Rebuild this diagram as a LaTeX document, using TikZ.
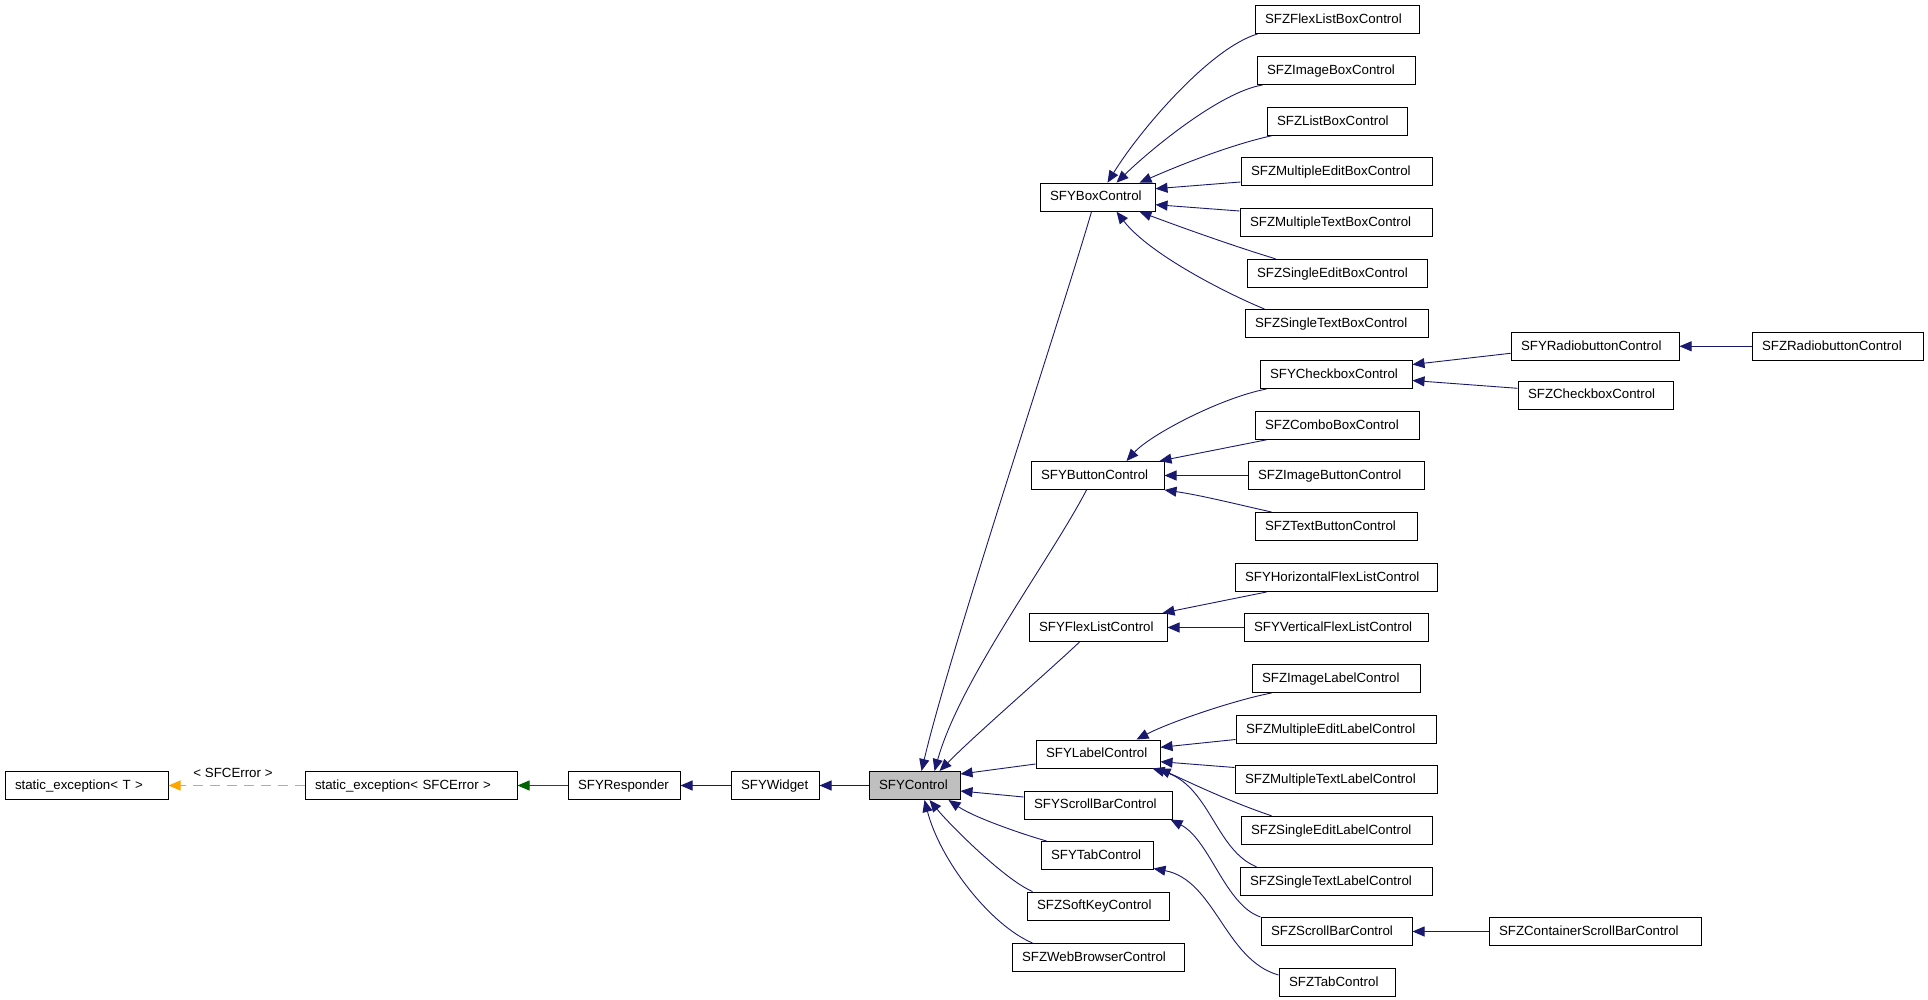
\documentclass[tikz,border=0pt]{standalone}
\usepackage{fontspec}
\setmainfont{Liberation Sans}
\usetikzlibrary{arrows.meta,calc}
\definecolor{edgeblue}{RGB}{25,25,112}
\definecolor{edgegreen}{RGB}{0,100,0}
\definecolor{edgeorange}{RGB}{255,165,0}
\definecolor{ctrlgray}{RGB}{191,191,191}
\newcommand\clsnode[6][]{%
  \pgfmathsetmacro\clsCX{(#3+#4)/2}%
  \pgfmathsetmacro\clsBW{#4-#3}%
  \pgfmathsetmacro\clsTW{#4-#3-20}%
  \node[clsbox,minimum width=\clsBW pt,text width=\clsTW pt,#1] (#2) at (\clsCX,#5) {#6};%
}
\begin{document}
\begin{tikzpicture}[x=1pt,y=-1pt,
  clsbox/.style={draw=black, line width=1pt, fill=white, inner xsep=10pt, inner ysep=0pt,
    minimum height=28pt, align=left, text height=11.6pt, text depth=4pt,
    font=\fontsize{13.3}{16}\selectfont},
  inh/.style={draw=edgeblue, line width=0.9pt, -{Triangle[length=12pt,width=10pt]}},
  inhgreen/.style={draw=edgegreen, line width=0.9pt, -{Triangle[length=12pt,width=10pt]}},
  inhorange/.style={draw=edgeorange, line width=0.9pt, dash pattern=on 10pt off 7pt, -{Triangle[length=12pt,width=10pt]}},
  lbltext/.style={inner sep=0pt, text height=11.6pt, text depth=4pt, font=\fontsize{13.3}{16}\selectfont}
]
\fill[white] (0,0) rectangle (1928,1000);
\useasboundingbox (0,0) rectangle (1928,1000);

\clsnode{ST}{5}{168}{785.5}{static\_exception< T >}
\clsnode{SE}{305}{517}{785.5}{static\_exception< SFCError >}
\clsnode{RESP}{568}{680}{785.5}{SFYResponder}
\clsnode{WID}{731}{819}{785.5}{SFYWidget}
\clsnode[fill=ctrlgray]{CTRL}{869}{960}{785.5}{SFYControl}
\clsnode{BOX}{1040}{1155}{197.2}{SFYBoxControl}
\clsnode{ZFLB}{1255}{1419}{19.5}{SFZFlexListBoxControl}
\clsnode{ZIB}{1257}{1415}{70.5}{SFZImageBoxControl}
\clsnode{ZLB}{1267}{1407}{121.3}{SFZListBoxControl}
\clsnode{ZMEB}{1241}{1432}{171.5}{SFZMultipleEditBoxControl}
\clsnode{ZMTB}{1240}{1432}{222.5}{SFZMultipleTextBoxControl}
\clsnode{ZSEB}{1247}{1427}{273.3}{SFZSingleEditBoxControl}
\clsnode{ZSTB}{1245}{1428}{323.5}{SFZSingleTextBoxControl}
\clsnode{YRB}{1511}{1679}{346.3}{SFYRadiobuttonControl}
\clsnode{ZRB}{1752}{1923}{346.3}{SFZRadiobuttonControl}
\clsnode{YCB}{1260}{1412}{374.5}{SFYCheckboxControl}
\clsnode{ZCB}{1518}{1673}{395}{SFZCheckboxControl}
\clsnode{ZCOMBO}{1255}{1419}{425.3}{SFZComboBoxControl}
\clsnode{BTN}{1031}{1164}{475.5}{SFYButtonControl}
\clsnode{ZIBTN}{1248}{1424}{475.5}{SFZImageButtonControl}
\clsnode{ZTB}{1255}{1417}{526.5}{SFZTextButtonControl}
\clsnode{YHFL}{1235}{1437}{577.5}{SFYHorizontalFlexListControl}
\clsnode{FL}{1029}{1167}{627.5}{SFYFlexListControl}
\clsnode{YVFL}{1244}{1428}{627.5}{SFYVerticalFlexListControl}
\clsnode{ZIL}{1252}{1420}{678.5}{SFZImageLabelControl}
\clsnode{ZMEL}{1236}{1436}{729.5}{SFZMultipleEditLabelControl}
\clsnode{LBL}{1036}{1160}{754}{SFYLabelControl}
\clsnode{ZMTL}{1235}{1437}{779.5}{SFZMultipleTextLabelControl}
\clsnode{SB}{1024}{1172}{805}{SFYScrollBarControl}
\clsnode{ZSEL}{1241}{1432}{830.3}{SFZSingleEditLabelControl}
\clsnode{TAB}{1041}{1153}{855.5}{SFYTabControl}
\clsnode{ZSTL}{1240}{1432}{881.3}{SFZSingleTextLabelControl}
\clsnode{SK}{1027}{1169}{906}{SFZSoftKeyControl}
\clsnode{ZSB}{1261}{1412}{931.5}{SFZScrollBarControl}
\clsnode{CSB}{1489}{1701}{931.5}{SFZContainerScrollBarControl}
\clsnode{WB}{1012}{1184}{957.5}{SFZWebBrowserControl}
\clsnode{ZTAB}{1279}{1395}{982.5}{SFZTabControl}

\node[lbltext] (lblT) at (233,774) {< SFCError >};

% base chain
\draw[inhorange] (SE.west) -- (ST.east);
\draw[inhgreen] (RESP.west) -- (SE.east);
\draw[inh] (WID.west) -- (RESP.east);
\draw[inh] (CTRL.west) -- (WID.east);

% into SFYControl
\draw[inh] ($(BOX.south west)+(52,0)$) .. controls (1060,320) and (950,650) .. ($(CTRL.north west)+(53,0)$);
\draw[inh] ($(BTN.south west)+(56,0)$) .. controls (1050,560) and (960,680) .. ($(CTRL.north west)+(66,0)$);
\draw[inh] ($(FL.south west)+(51,0)$) .. controls (1050,670) and (975,735) .. ($(CTRL.north west)+(71,0)$);
\draw[inh] ($(LBL.west)+(0,10)$) -- ($(CTRL.east)+(0,-11.5)$);
\draw[inh] ($(SB.west)+(0,-8)$) -- ($(CTRL.east)+(0,5.5)$);
\draw[inh] ($(TAB.north west)+(6,0)$) .. controls (1025,835) and (975,818) .. ($(CTRL.south west)+(80,0)$);
\draw[inh] ($(SK.north west)+(6,0)$) .. controls (1005,880) and (950,825) .. ($(CTRL.south west)+(61,0)$);
\draw[inh] ($(WB.north west)+(21,0)$) .. controls (990,925) and (940,860) .. ($(CTRL.south west)+(56,0)$);

% into SFYBoxControl
\draw[inh] ($(ZFLB.south west)+(3,0)$) .. controls (1210,48) and (1140,130) .. ($(BOX.north west)+(68,0)$);
\draw[inh] ($(ZIB.south west)+(6,0)$) .. controls (1220,92) and (1150,150) .. ($(BOX.north west)+(77,0)$);
\draw[inh] ($(ZLB.south west)+(5,0)$) .. controls (1230,145) and (1180,165) .. ($(BOX.north west)+(100,0)$);
\draw[inh] ($(ZMEB.west)+(0,10.5)$) -- ($(BOX.east)+(0,-8.5)$);
\draw[inh] ($(ZMTB.west)+(0,-11.5)$) -- ($(BOX.east)+(0,7.5)$);
\draw[inh] ($(ZSEB.north west)+(29,0)$) .. controls (1230,245) and (1175,225) .. ($(BOX.south west)+(100,0)$);
\draw[inh] ($(ZSTB.north west)+(20,0)$) .. controls (1230,295) and (1150,255) .. ($(BOX.south west)+(77,0)$);

% checkbox / radiobutton
\draw[inh] ($(YRB.west)+(0,7)$) -- ($(YCB.east)+(0,-10)$);
\draw[inh] ($(ZCB.west)+(0,-6.7)$) -- ($(YCB.east)+(0,6)$);
\draw[inh] (ZRB.west) -- (YRB.east);

% into SFYButtonControl
\draw[inh] ($(YCB.south west)+(7,0)$) .. controls (1220,398) and (1150,435) .. ($(BTN.north west)+(96,0)$);
\draw[inh] ($(ZCOMBO.south west)+(12,0)$) -- ($(BTN.north west)+(129,0)$);
\draw[inh] (ZIBTN.west) -- (BTN.east);
\draw[inh] ($(ZTB.north west)+(17,0)$) .. controls (1240,505) and (1200,495) .. (BTN.south east);

% into SFYFlexListControl
\draw[inh] ($(YHFL.south west)+(32,0)$) -- ($(FL.north west)+(134,0)$);
\draw[inh] (YVFL.west) -- (FL.east);

% into SFYLabelControl
\draw[inh] ($(ZIL.south west)+(20,0)$) .. controls (1235,700) and (1170,722) .. ($(LBL.north west)+(101,0)$);
\draw[inh] ($(ZMEL.west)+(0,10)$) -- ($(LBL.east)+(0,-6.7)$);
\draw[inh] ($(ZMTL.west)+(0,-12)$) -- ($(LBL.east)+(0,7.7)$);
\draw[inh] ($(ZSEL.north west)+(31,0)$) .. controls (1225,800) and (1185,780) .. ($(LBL.south east)+(-2,0)$);
\draw[inh] ($(ZSTL.north west)+(17,0)$) .. controls (1215,850) and (1210,785) .. ($(LBL.south east)+(-8,0)$);

% scrollbar and tab
\draw[inh] (ZSB.north west) .. controls (1225,905) and (1210,840) .. ($(SB.south east)+(-2,0)$);
\draw[inh] (CSB.west) -- (ZSB.east);
\draw[inh] ($(ZTAB.west)+(0,-7.5)$) .. controls (1225,960) and (1215,880) .. ($(TAB.south east)+(0,-1.5)$);
\end{tikzpicture}
\end{document}
